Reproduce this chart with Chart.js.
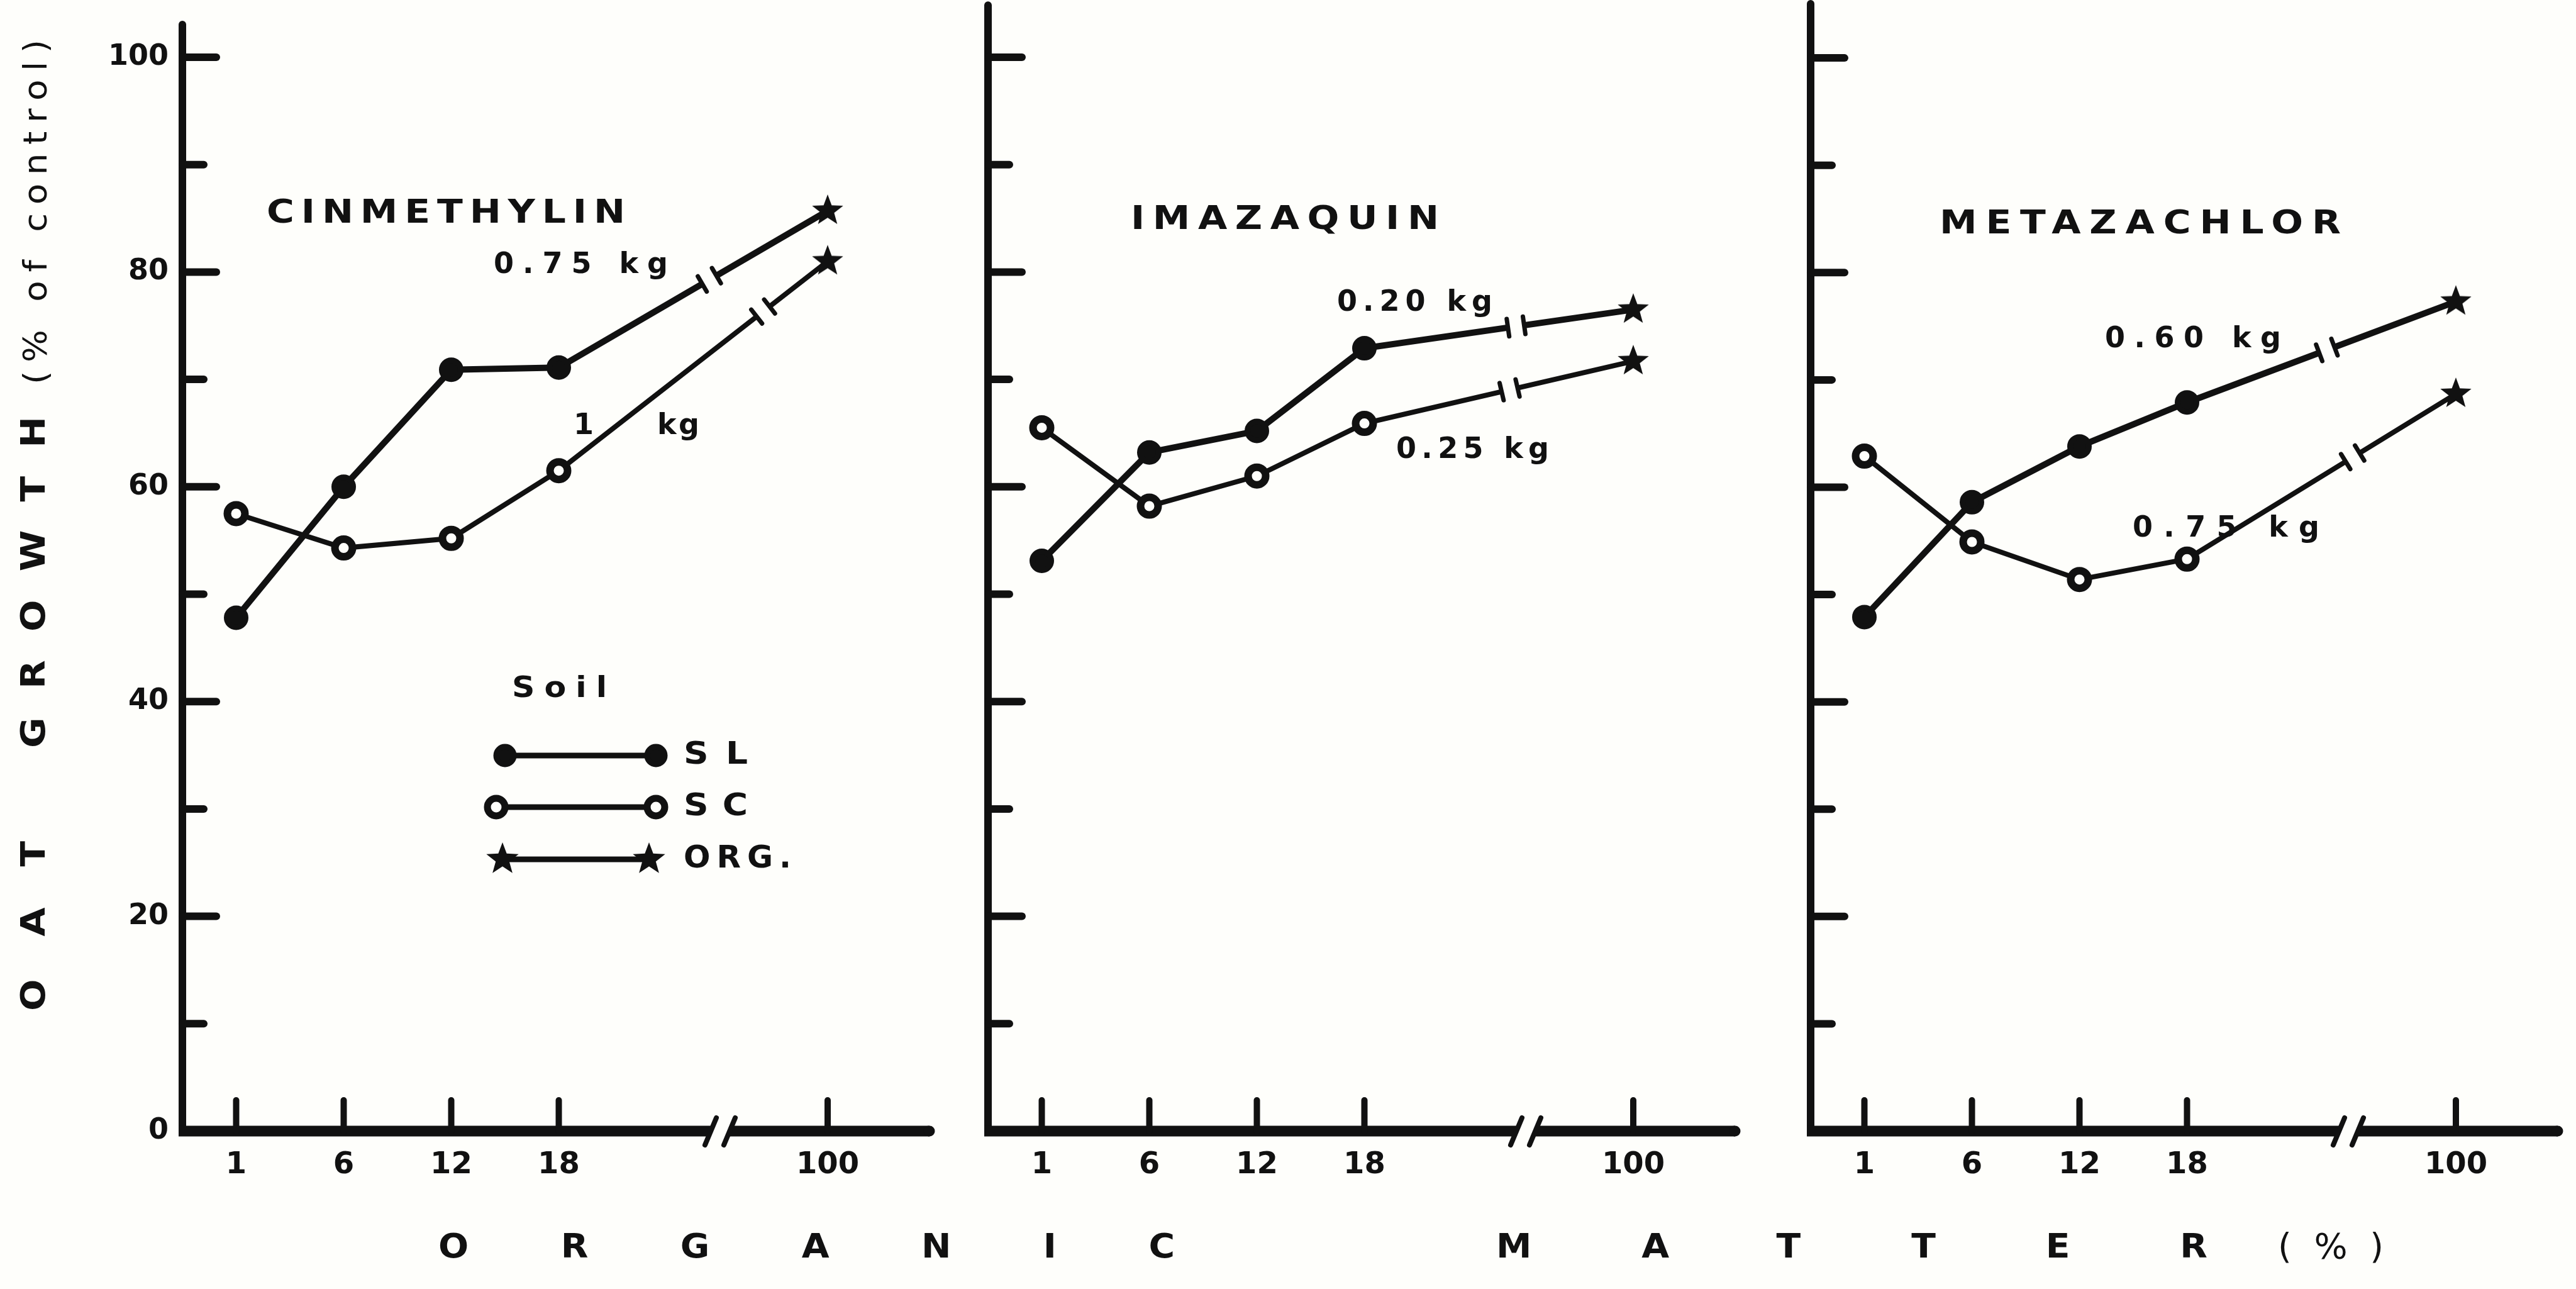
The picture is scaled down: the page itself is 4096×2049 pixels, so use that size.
<!DOCTYPE html>
<html>
<head>
<meta charset="utf-8">
<script src="https://cdn.jsdelivr.net/npm/chart.js@4.4.1/dist/chart.umd.min.js"></script>
<style>
  html, body { margin: 0; padding: 0; background: #fefefb; overflow: hidden; }
  canvas { position: absolute; left: 0; top: 0; }
</style>
</head>
<body>
<canvas id="p1" width="4096" height="2049"></canvas>
<canvas id="p2" width="4096" height="2049"></canvas>
<canvas id="p3" width="4096" height="2049"></canvas>
<script>
// data (% of control)
const organicMatter = ['1', '6', '12', '18', '100'];
const yTickValues = [0, 10, 20, 30, 40, 50, 60, 70, 80, 90, 100];
const herbicides = ['CINMETHYLIN', 'IMAZAQUIN', 'METAZACHLOR'];
const slRates = ['0.75 kg', '0.20 kg', '0.60 kg'];
const scRates = ['1     kg', '0.25 kg', '0.75 kg'];
const soilLabels = ['SL', 'SC', 'ORG.'];

const cinmethylinSL = [47.8, 60.0, 70.9, 71.1, 85.7];
const cinmethylinSC = [57.5, 54.3, 55.2, 61.5, 81.0];
const imazaquinSL = [53.1, 63.2, 65.2, 72.9, 76.5];
const imazaquinSC = [65.5, 58.2, 61.0, 65.9, 71.7];
const metazachlorSL = [47.9, 58.6, 63.8, 67.9, 77.3];
const metazachlorSC = [62.9, 54.9, 51.4, 53.3, 68.7];

// layout
const W = 4096, H = 2049;
const BG = '#fefefb';
const INK = '#111111';
const zeroY = 1798;
const unitY = 17.07;     // px per % on y
const unitX = 171;       // px per category step on x
const yScaleW = 140, xScaleH = 100;
const axisBreakAt = 4.5;
const FONT = '"DejaVu Sans", "Liberation Sans", Arial, sans-serif';

// broken axis: 100 sits 2.5 steps after 18
const xPos = organicMatter.map((_, i) => (i < 4 ? i : i + 1.5));

const panels = [
  { id: 'p1', left: 290, top: 103.4, labels: true, sl: cinmethylinSL, sc: cinmethylinSC,
    slBreak: 4.40, scBreak: 4.90,
    title: [424, 994, 340], slBox: [785, 1062, 422], scBox: [912, 1112, 678] },
  { id: 'p2', left: 1571, top: 105.2, labels: false, sl: imazaquinSL, sc: imazaquinSC,
    slBreak: 4.41, scBreak: 4.35,
    title: [1798, 2288, 350], slBox: [2126, 2373, 482], scBox: [2220, 2463, 716] },
  { id: 'p3', left: 2879, top: 105.4, labels: false, sl: metazachlorSL, sc: metazachlorSC,
    slBreak: 4.30, scBreak: 4.54,
    title: [3084, 3722, 357], slBox: [3347, 3627, 540], scBox: [3391, 3688, 841] }
];

function starImage(r) {
  const c = document.createElement('canvas');
  const s = Math.ceil(r * 2 + 4);
  c.width = c.height = s;
  const g = c.getContext('2d');
  g.fillStyle = INK;
  g.beginPath();
  for (let k = 0; k < 10; k++) {
    const rad = k % 2 ? r * 0.42 : r;
    const a = -Math.PI / 2 + k * Math.PI / 5;
    g.lineTo(s / 2 + rad * Math.cos(a), s / 2 + rad * Math.sin(a));
  }
  g.closePath();
  g.fill();
  return c;
}
const star = starImage(26);
const legendStar = starImage(27);

function line(ctx, x1, y1, x2, y2) {
  ctx.beginPath();
  ctx.moveTo(x1, y1);
  ctx.lineTo(x2, y2);
  ctx.stroke();
}

// spread text so it spans x0..x1, glyphs widened by sx
function fitText(ctx, text, x0, x1, y, font, sx = 1) {
  ctx.save();
  ctx.translate(x0, y);
  ctx.scale(sx, 1);
  ctx.font = font;
  ctx.letterSpacing = '0px';
  const w = ctx.measureText(text).width;
  const sp = text.length > 1 ? ((x1 - x0) / sx - w) / (text.length - 1) : 0;
  ctx.letterSpacing = sp + 'px';
  ctx.textAlign = 'left';
  ctx.textBaseline = 'middle';
  ctx.fillStyle = INK;
  ctx.fillText(text, 0, 0);
  ctx.restore();
}

function fitTextUp(ctx, text, yBottom, yTop, xc, font, sx = 1) {
  ctx.save();
  ctx.translate(xc, 0);
  ctx.rotate(-Math.PI / 2);
  fitText(ctx, text, -yBottom, -yTop, 0, font, sx);
  ctx.restore();
}

function dot(ctx, x, y, filled) {
  ctx.beginPath();
  ctx.arc(x, y, 14, 0, Math.PI * 2);
  ctx.fillStyle = filled ? INK : BG;
  ctx.fill();
  ctx.lineWidth = filled ? 9 : 11;
  ctx.strokeStyle = INK;
  ctx.stroke();
}

function panelOf(chart) {
  return panels.findIndex(q => q.id === chart.canvas.id);
}

// hand-drawn style axes: inward ticks and a break on x
const axesPlugin = {
  id: 'handAxes',
  beforeDatasetsDraw(chart) {
    const { ctx, chartArea: a, scales: { x, y } } = chart;
    const y0 = y.getPixelForValue(0);
    ctx.save();
    ctx.strokeStyle = INK;
    ctx.lineCap = 'round';
    ctx.lineWidth = 12;
    line(ctx, a.left, y0, a.left, a.top + 6);
    yTickValues.forEach(v => {
      if (v === 0) return;
      const py = y.getPixelForValue(v);
      line(ctx, a.left, py, a.left + (v % 20 ? 34 : 54), py);
    });
    const bx = x.getPixelForValue(axisBreakAt);
    ctx.lineWidth = 17;
    ctx.lineCap = 'butt';
    line(ctx, a.left - 6, y0, bx - 15, y0);
    line(ctx, bx + 15, y0, a.right - 9, y0);
    ctx.lineCap = 'round';
    line(ctx, a.right - 10, y0, a.right - 9, y0);
    ctx.lineWidth = 8;
    [-15, 15].forEach(d => line(ctx, bx + d + 9, y0 - 21, bx + d - 9, y0 + 22));
    ctx.lineWidth = 10;
    x.ticks.forEach(t => {
      const px = x.getPixelForValue(t.value);
      line(ctx, px, y0, px, y0 - 49);
    });
    ctx.restore();
  }
};

// "-| |-" breaks on the lines between 18 and 100
const lineBreakPlugin = {
  id: 'lineBreaks',
  afterDatasetsDraw(chart) {
    const { ctx, scales: { x } } = chart;
    chart.data.datasets.forEach((ds, i) => {
      const pts = chart.getDatasetMeta(i).data;
      const p = pts[3], q = pts[4];
      const bx = x.getPixelForValue(ds.breakAt);
      const t = (bx - p.x) / (q.x - p.x);
      const cx = p.x + t * (q.x - p.x), cy = p.y + t * (q.y - p.y);
      const len = Math.hypot(q.x - p.x, q.y - p.y);
      const ux = (q.x - p.x) / len, uy = (q.y - p.y) / len;
      const nx = -uy, ny = ux, g = 13;
      ctx.save();
      ctx.strokeStyle = BG;
      ctx.lineWidth = ds.borderWidth + 4;
      line(ctx, cx - ux * g, cy - uy * g, cx + ux * g, cy + uy * g);
      ctx.strokeStyle = INK;
      ctx.lineWidth = 7;
      ctx.lineCap = 'round';
      [-g, g].forEach(d => {
        const mx = cx + ux * d, my = cy + uy * d;
        line(ctx, mx - nx * 14, my - ny * 14, mx + nx * 14, my + ny * 14);
      });
      ctx.restore();
    });
  }
};

const textPlugin = {
  id: 'panelText',
  afterDraw(chart) {
    const ctx = chart.ctx;
    const idx = panelOf(chart);
    const p = panels[idx];
    fitText(ctx, herbicides[idx], p.title[0], p.title[1], p.title[2], 'bold 52px ' + FONT, 1.15);
    fitText(ctx, slRates[idx], p.slBox[0], p.slBox[1], p.slBox[2], 'bold 46px ' + FONT);
    fitText(ctx, scRates[idx], p.scBox[0], p.scBox[1], p.scBox[2], 'bold 46px ' + FONT);
    if (idx !== 0) return;

    // legend
    fitText(ctx, 'Soil', 814, 965, 1096, 'bold 46px ' + FONT, 1.1);
    ctx.save();
    ctx.strokeStyle = INK;
    ctx.lineWidth = 9;
    line(ctx, 803, 1201, 1043, 1201);
    dot(ctx, 803, 1201, true);
    dot(ctx, 1043, 1201, true);
    ctx.lineWidth = 9;
    ctx.strokeStyle = INK;
    line(ctx, 789, 1283, 1043, 1283);
    dot(ctx, 789, 1283, false);
    dot(ctx, 1043, 1283, false);
    ctx.lineWidth = 9;
    ctx.strokeStyle = INK;
    line(ctx, 799, 1366, 1032, 1366);
    ctx.drawImage(legendStar, 799 - legendStar.width / 2, 1366 - legendStar.height / 2);
    ctx.drawImage(legendStar, 1032 - legendStar.width / 2, 1366 - legendStar.height / 2);
    ctx.restore();
    fitText(ctx, soilLabels[0], 1087, 1189, 1201, 'bold 50px ' + FONT, 1.1);
    fitText(ctx, soilLabels[1], 1087, 1189, 1283, 'bold 50px ' + FONT, 1.1);
    fitText(ctx, soilLabels[2], 1087, 1258, 1366, 'bold 50px ' + FONT, 1.0);

    // axis titles
    fitTextUp(ctx, 'OAT', 1607, 1337, 57, 'bold 54px ' + FONT, 1.1);
    fitTextUp(ctx, 'GROWTH', 1189, 662, 57, 'bold 54px ' + FONT, 1.1);
    fitTextUp(ctx, '(% of control)', 611, 63, 60, '52px ' + FONT, 1.05);
    fitText(ctx, 'ORGANIC', 697, 1868, 1985, 'bold 54px ' + FONT, 1.05);
    fitText(ctx, 'MATTER', 2379, 3510, 1985, 'bold 54px ' + FONT, 1.05);
    fitText(ctx, '(%)', 3622, 3790, 1985, '56px ' + FONT, 1.0);
  }
};

function toPoints(vals) {
  return vals.map((v, i) => ({ x: xPos[i], y: v }));
}

function makeChart(p) {
  const styles = organicMatter.map((_, i) => (i < 4 ? 'circle' : star));
  return new Chart(document.getElementById(p.id), {
    type: 'line',
    data: {
      datasets: [
        { label: 'SL', data: toPoints(p.sl), breakAt: p.slBreak,
          borderColor: INK, borderWidth: 10, tension: 0,
          pointStyle: styles, pointRadius: 15, pointBorderWidth: 9,
          pointBackgroundColor: INK, pointBorderColor: INK },
        { label: 'SC', data: toPoints(p.sc), breakAt: p.scBreak,
          borderColor: INK, borderWidth: 8, tension: 0,
          pointStyle: styles, pointRadius: 14, pointBorderWidth: 12,
          pointBackgroundColor: BG, pointBorderColor: INK }
      ]
    },
    options: {
      responsive: false,
      animation: false,
      events: [],
      clip: false,
      layout: {
        autoPadding: false,
        padding: {
          left: p.left - yScaleW,
          right: W - p.left - 7 * unitX,
          top: zeroY - p.top * unitY,
          bottom: H - zeroY - xScaleH
        }
      },
      plugins: { legend: { display: false }, tooltip: { enabled: false } },
      scales: {
        x: {
          type: 'linear', min: -0.5, max: 6.5,
          afterBuildTicks: s => { s.ticks = xPos.map(v => ({ value: v })); },
          afterFit: s => { s.height = xScaleH; s.paddingLeft = 0; s.paddingRight = 0; },
          grid: { display: false, drawTicks: false },
          border: { display: false },
          ticks: {
            callback: (v, i) => organicMatter[i],
            autoSkip: false, maxRotation: 0, padding: 26,
            color: INK, font: { family: FONT, size: 48, weight: 'bold' }
          }
        },
        y: {
          min: 0, max: p.top,
          afterBuildTicks: s => { s.ticks = yTickValues.map(v => ({ value: v })); },
          afterFit: s => { s.width = yScaleW; s.paddingTop = 0; s.paddingBottom = 0; },
          grid: { display: false, drawTicks: false },
          border: { display: false },
          ticks: {
            display: p.labels,
            callback: v => (v % 20 === 0 ? String(v) : ''),
            padding: 22,
            color: INK, font: { family: FONT, size: 46, weight: 'bold' }
          }
        }
      }
    },
    plugins: [axesPlugin, lineBreakPlugin, textPlugin]
  });
}

panels.forEach(makeChart);
</script>
</body>
</html>
